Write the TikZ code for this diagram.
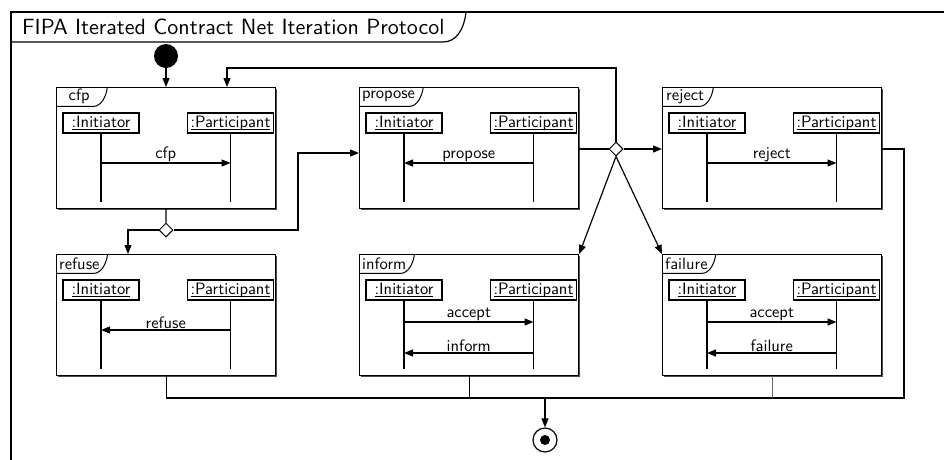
\documentclass[tikz,border=0pt]{standalone}
\usepackage{fontspec}
\setsansfont{lmsans10-regular.otf}
\usetikzlibrary{arrows.meta,shapes.geometric,shadows}
\newcommand{\ulin}[1]{\setbox0\hbox{#1}\rlap{\rule[-2.5pt]{\wd0}{0.8pt}}\box0}
\tikzset{
  shd/.style={drop shadow={shadow xshift=1pt, shadow yshift=-1pt, fill=black!70, opacity=1}},
  frm/.style={draw, fill=white, line width=1.2pt, minimum width=219pt, minimum height=121pt, inner sep=0pt, anchor=north west, shd},
  txt/.style={font=\fontsize{16.5}{19}\selectfont\sffamily},
  tablab/.style={txt, inner sep=2pt, minimum width=44pt, minimum height=19pt, anchor=north west},
  tabline/.style={line width=1pt},
  objbox/.style={txt, draw, fill=white, line width=1.2pt, inner xsep=3pt, inner ysep=2.5pt, text height=12pt, text depth=3pt, shd},
  lifeline/.style={line width=1.2pt},
  msg/.style={line width=1.2pt, -{Triangle[length=9pt,width=7pt]}},
  lbl/.style={txt, inner sep=1pt},
  flow/.style={line width=1.2pt, -{Triangle[length=9pt,width=7pt]}},
  link/.style={line width=1.2pt},
  decision/.style={diamond, draw, fill=white, line width=1pt, minimum width=14pt, minimum height=14pt, inner sep=0pt},
}
\newcommand{\sdframe}[4]{%
  \node[frm] (#1) at (#2,-#3) {};
  \node[tablab] (#1T) at ([xshift=1pt]#1.north west) {#4};
  \draw[tabline] (#1.north west |- #1T.south) -- ([xshift=-8pt]#1T.south east) .. controls +(8,0) and +(-1,-9) .. ([xshift=6pt]#1T.north east);
  \node[objbox, minimum width=76pt] (#1I) at ([xshift=45pt,yshift=-36pt]#1.north west) {\ulin{:Initiator}};
  \node[objbox] (#1P) at ([xshift=174.5pt,yshift=-36pt]#1.north west) {\ulin{:Participant}};
  \draw[lifeline] (#1I.south) -- ++(0,-68);
  \draw[lifeline] (#1P.south) -- ++(0,-68);
}
\newcommand{\msgR}[3]{%
  \coordinate (#1Y#2) at ([yshift=-#2pt]#1.north west);
  \draw[msg] (#1Y#2 -| #1I) -- (#1Y#2 -| #1P) node[midway, above, lbl] {#3};}
\newcommand{\msgL}[3]{%
  \coordinate (#1Y#2) at ([yshift=-#2pt]#1.north west);
  \draw[msg] (#1Y#2 -| #1P) -- (#1Y#2 -| #1I) node[midway, above, lbl] {#3};}
\begin{document}
\begin{tikzpicture}[x=1pt,y=1pt]
\useasboundingbox (0,0) rectangle (944,-459);
\clip (0,0) rectangle (944,-459);
% outer frame
\draw[link] (11,-480) -- (11,-12) -- (970,-12);
\node[font=\fontsize{22}{26}\selectfont\sffamily, anchor=west, inner sep=0pt] (title) at (22,-27) {FIPA Iterated Contract Net Iteration Protocol};
\draw[link] (11,-42) -- (443,-42) .. controls (456,-42) and (464,-30) .. (466,-12);
% frames
\sdframe{cfp}{56}{87}{cfp}
\sdframe{propose}{359}{87}{propose}
\sdframe{reject}{662}{87}{reject}
\sdframe{refuse}{56}{254}{refuse}
\sdframe{inform}{359}{254}{inform}
\sdframe{failure}{662}{254}{failure}
\msgR{cfp}{76}{cfp}
\msgL{propose}{76}{propose}
\msgR{reject}{76}{reject}
\msgL{refuse}{76}{refuse}
\msgR{inform}{68}{accept}
\msgL{inform}{99}{inform}
\msgR{failure}{68}{accept}
\msgL{failure}{99}{failure}
% initial / final
\node[circle, fill=black, minimum size=24pt, inner sep=0pt] (init) at (166,-56) {};
\node[circle, draw, fill=white, line width=1.2pt, minimum size=24pt, inner sep=0pt] (final) at (545,-440) {};
\node[circle, fill=black, minimum size=10pt, inner sep=0pt] (finaldot) at (final) {};
% decisions
\node[decision] (d1) at (166,-230) {};
\node[decision] (d2) at (616,-149) {};
% connectors
\draw[flow] (init) -- (init |- cfp.north);
\draw[link] (cfp.south) -- (d1.north);
\coordinate (rfin) at (128,-254);
\draw[flow] (d1.west) -| (rfin);
\coordinate (j1) at (298,-153);
\draw[flow] (d1.east) -| (j1) -- (j1 -| propose.west);
\draw[link] (d2 -| propose.east) -- (d2.west);
\draw[flow] (d2.east) -- (d2 -| reject.west);
\coordinate (loopc) at (227,-68);
\draw[flow] (d2.north) |- (loopc) -- (loopc |- cfp.north);
\draw[flow] (d2.south) -- (inform.north east);
\draw[flow] (d2.south) -- (failure.north west);
\coordinate (mR) at (904,-398);
\draw[link] (d2 -| reject.east) -| (mR) -| (refuse.south);
\draw[link] (inform.south) -- (inform.south |- mR);
\draw[line width=0.8pt, black!60] (failure.south) -- (failure.south |- mR);
\draw[flow] (final |- mR) -- (final.north);
\end{tikzpicture}
\end{document}
